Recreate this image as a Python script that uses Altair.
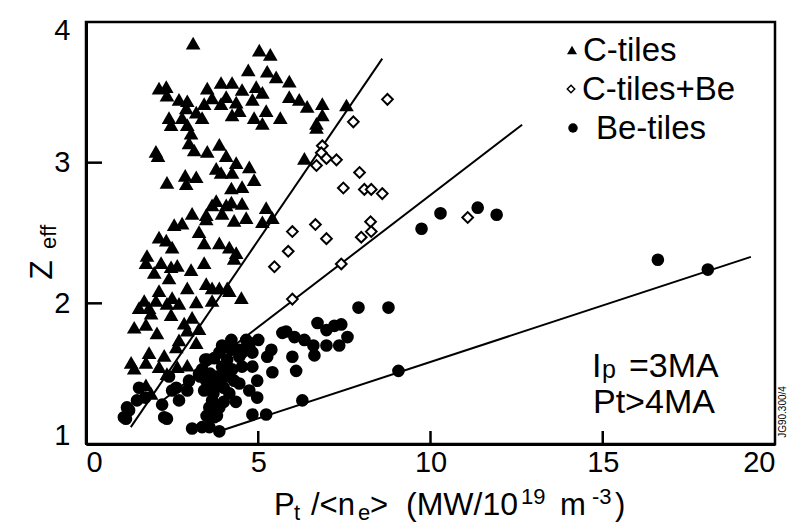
import altair as alt
import pandas as pd

# ---------------- data ----------------
c_tiles_x = [3.11, 5.03, 5.35, 4.71, 5.26, 5.52, 5.90, 2.12, 2.33, 2.35, 3.92, 4.24, 3.52, 4.53, 4.94,
             5.12, 4.07, 3.66, 2.70, 2.94, 4.83, 5.90, 6.19, 6.42, 6.86, 3.92, 4.36, 3.43, 2.91, 3.20,
             4.45, 4.24, 5.23, 6.86, 2.41, 2.79, 3.37, 4.88, 5.12, 5.64, 6.69, 6.69, 2.47, 2.94, 3.05,
             2.99, 3.14, 2.03, 2.09, 3.52, 3.87, 4.07, 3.78, 4.36, 4.74, 4.24, 3.92, 6.34, 2.35, 2.88,
             3.20, 2.91, 4.88, 4.22, 4.53, 3.78, 4.22, 4.53, 5.23, 3.08, 3.49, 3.95, 3.66, 4.07, 4.30,
             4.65, 5.41, 5.12, 3.49, 2.79, 2.56, 2.12, 2.33, 2.50, 3.28, 3.43, 3.87, 4.16, 4.36, 4.30,
             1.77, 2.18, 1.74, 1.98, 2.47, 2.65, 3.05, 3.43, 2.41, 2.94, 3.49, 3.66, 3.87, 4.10, 4.51,
             2.12, 1.69, 2.03, 2.35, 2.50, 2.70, 3.20, 3.66, 1.54, 1.83, 1.89, 2.47, 1.40, 1.74, 2.06,
             2.85, 3.08, 3.28, 3.20, 2.94, 2.70, 2.62, 2.27, 1.83, 1.31, 1.74, 1.40, 2.12, 2.65, 2.94,
             2.35, 1.74, 1.89, 7.56, 4.16]
c_tiles_y = [3.85, 3.80, 3.77, 3.66, 3.65, 3.61, 3.58, 3.53, 3.54, 3.48, 3.57, 3.57, 3.53, 3.52, 3.54,
             3.50, 3.47, 3.46, 3.45, 3.44, 3.45, 3.47, 3.45, 3.40, 3.42, 3.42, 3.43, 3.42, 3.39, 3.36,
             3.37, 3.34, 3.37, 3.34, 3.32, 3.32, 3.32, 3.32, 3.28, 3.32, 3.28, 3.25, 3.27, 3.27, 3.21,
             3.14, 3.09, 3.08, 3.05, 3.08, 3.13, 3.05, 2.96, 3.00, 2.97, 2.93, 2.93, 3.03, 2.86, 2.91,
             2.90, 2.85, 2.88, 2.82, 2.83, 2.73, 2.72, 2.71, 2.68, 2.64, 2.63, 2.64, 2.70, 2.70, 2.59,
             2.61, 2.61, 2.58, 2.60, 2.57, 2.56, 2.47, 2.45, 2.40, 2.51, 2.43, 2.43, 2.40, 2.36, 2.32,
             2.34, 2.29, 2.29, 2.22, 2.26, 2.27, 2.24, 2.29, 2.18, 2.11, 2.14, 2.11, 2.11, 2.11, 2.04,
             2.09, 2.02, 2.02, 2.00, 2.04, 2.00, 2.01, 2.02, 1.97, 1.97, 1.93, 1.92, 1.83, 1.85, 1.79,
             1.86, 1.90, 1.82, 1.72, 1.81, 1.74, 1.69, 1.63, 1.65, 1.58, 1.58, 1.54, 1.55, 1.55, 1.56,
             1.50, 1.42, 1.36, 3.41, 2.09]

c_be_x = [8.75, 7.76, 6.86, 6.83, 6.69, 6.98, 7.27, 7.94, 7.47, 8.08, 8.28, 8.60, 8.26, 8.28, 5.99,
          6.66, 6.98, 5.87, 7.99, 7.41, 5.99, 11.08, 5.47]
c_be_y = [3.45, 3.29, 3.12, 3.07, 2.98, 3.03, 3.02, 2.93, 2.82, 2.81, 2.81, 2.78, 2.58, 2.51, 2.51,
          2.56, 2.46, 2.37, 2.47, 2.28, 2.03, 2.61, 2.26]

be_x = [9.74, 10.29, 11.37, 11.92, 7.91, 8.78, 6.72, 6.98, 7.21, 7.41, 5.81, 6.05, 6.34, 6.60, 6.98,
        7.35, 7.59, 6.63, 5.99, 6.10, 9.07, 6.28, 16.60, 18.05, 5.38, 5.26, 5.41, 5.00, 4.74, 4.45,
        4.22, 4.83, 5.23, 3.87, 3.58, 3.72, 3.52, 3.72, 3.95, 4.10, 4.24, 4.53, 4.83, 4.97, 4.97,
        4.74, 4.45, 3.87, 3.58, 3.66, 3.87, 3.58, 4.16, 4.53, 4.83, 4.74, 4.45, 3.37, 3.49, 3.43,
        3.78, 1.16, 1.25, 1.54, 1.48, 2.35, 2.21, 2.70, 2.62, 2.41, 3.08, 3.63, 2.99, 3.28, 3.87,
        4.65, 5.70, 4.22, 4.07, 1.19, 1.10, 2.27, 1.72, 2.50, 2.94, 3.37, 3.46, 3.31, 3.70, 4.00,
        4.30, 3.95, 4.10, 3.60, 4.35, 3.80, 4.00, 3.50]
be_y = [2.53, 2.64, 2.68, 2.63, 1.97, 1.97, 1.86, 1.81, 1.84, 1.85, 1.80, 1.76, 1.74, 1.70, 1.70,
        1.70, 1.76, 1.63, 1.62, 1.52, 1.52, 1.31, 2.31, 2.24, 1.67, 1.62, 1.51, 1.74, 1.69, 1.67,
        1.67, 1.21, 1.21, 1.09, 1.12, 1.19, 1.60, 1.61, 1.55, 1.48, 1.53, 1.55, 1.55, 1.45, 1.33,
        1.38, 1.43, 1.43, 1.41, 1.31, 1.26, 1.26, 1.36, 1.65, 1.65, 1.72, 1.62, 1.53, 1.45, 1.38,
        1.48, 1.18, 1.24, 1.40, 1.31, 1.18, 1.28, 1.31, 1.40, 1.48, 1.11, 1.22, 1.45, 1.50, 1.65,
        1.74, 1.79, 1.74, 1.50, 1.26, 1.19, 1.19, 1.33, 1.38, 1.38, 1.12, 1.60, 1.48, 1.36, 1.40,
        1.45, 1.70, 1.60, 1.50, 1.30, 1.20, 1.30, 1.20]

# fitted lines (end points)
fit_group = ["C-tiles", "C-tiles", "C-tiles+Be", "C-tiles+Be", "Be-tiles", "Be-tiles"]
fit_x = [1.30, 8.60, 2.12, 12.66, 3.98, 19.30]
fit_y = [1.12, 3.74, 1.29, 3.27, 1.10, 2.33]

x_ticks = [0, 5, 10, 15, 20]
y_ticks = [1, 2, 3, 4]
inner_x_ticks = [5, 10, 15]
inner_y_ticks = [2, 3]

# plot frame corners (closed path around the axis domains)
frame_x = [0, 20, 20, 0, 0]
frame_y = [1, 1, 4, 4, 1]
frame_order = [0, 1, 2, 3, 4]

# ---------------- layout ----------------
W, H = 689, 422
LEFT, TOP = 86, 22
FONT = "Liberation Sans"

xs = alt.Scale(domain=[0, 20], nice=False, zero=False)
ys = alt.Scale(domain=[1, 4], nice=False, zero=False)

x_axis = alt.Axis(values=x_ticks, title=None, grid=False, ticks=False, domain=True,
                  domainColor="black", domainWidth=3,
                  labelFlush=True, labelFontSize=29, labelFont=FONT, labelColor="black",
                  labelPadding=4, format="d")
y_axis = alt.Axis(values=y_ticks, title=None, grid=False, ticks=False, domain=True,
                  domainColor="black", domainWidth=3,
                  labelFlush=True, labelFlushOffset=6, labelFontSize=29, labelFont=FONT,
                  labelColor="black", labelPadding=16, format="d")

tri = pd.DataFrame({"x": c_tiles_x, "y": c_tiles_y})
dia = pd.DataFrame({"x": c_be_x, "y": c_be_y})
cir = pd.DataFrame({"x": be_x, "y": be_y})
fits = pd.DataFrame({"g": fit_group, "x": fit_x, "y": fit_y})
frm = pd.DataFrame({"x": frame_x, "y": frame_y, "o": frame_order})

X = alt.X("x:Q", scale=xs, axis=x_axis)
Y = alt.Y("y:Q", scale=ys, axis=y_axis)

frame = alt.Chart(frm).mark_line(color="#000000", strokeWidth=2.5, clip=False).encode(
    x=X, y=Y, order="o:Q")

lines = alt.Chart(fits).mark_line(color="black", strokeWidth=2).encode(x=X, y=Y, detail="g:N")

triangles = alt.Chart(tri).mark_point(shape="triangle-up", filled=True, color="black",
                                      size=215, opacity=1, strokeWidth=0).encode(x=X, y=Y)

diamonds = alt.Chart(dia).mark_point(shape="diamond", filled=True, fill="white", stroke="black",
                                     strokeWidth=2, size=115, opacity=1).encode(x=X, y=Y)

circles = alt.Chart(cir).mark_circle(color="black", size=160, opacity=1).encode(x=X, y=Y)

xt = alt.Chart(pd.DataFrame({"v": inner_x_ticks})).mark_rule(color="black", strokeWidth=2.5).encode(
    x=alt.X("v:Q", scale=xs, axis=x_axis), y=alt.value(H), y2=alt.value(H - 13))
yt = alt.Chart(pd.DataFrame({"v": inner_y_ticks})).mark_rule(color="black", strokeWidth=2.5).encode(
    y=alt.Y("v:Q", scale=ys, axis=y_axis), x=alt.value(0), x2=alt.value(16))


def txt(s, px, py, size, angle=0, align="left", baseline="alphabetic"):
    return alt.Chart(pd.DataFrame({"t": [s]})).mark_text(
        font=FONT, fontSize=size, color="black", angle=angle, align=align, baseline=baseline
    ).encode(x=alt.value(px - LEFT), y=alt.value(py - TOP), text="t:N")


def sym(shape, px, py, size, filled=True):
    if filled:
        m = alt.Chart(pd.DataFrame({"a": [0]})).mark_point(shape=shape, filled=True, color="black",
                                                          size=size, opacity=1, strokeWidth=0)
    else:
        m = alt.Chart(pd.DataFrame({"a": [0]})).mark_point(shape=shape, filled=True, fill="white",
                                                          stroke="black", strokeWidth=1.5,
                                                          size=size, opacity=1)
    return m.encode(x=alt.value(px - LEFT), y=alt.value(py - TOP))


texts = [
    # legend
    sym("triangle-up", 572, 50, 100), txt("C-tiles", 583, 61, 33),
    sym("diamond", 571, 89, 55, filled=False), txt("C-tiles+Be", 582, 100, 33),
    sym("circle", 573, 128, 90), txt("Be-tiles", 596, 139, 33),
    # annotation
    txt("I", 592, 377, 34), txt("p", 602, 378, 25), txt("=3MA", 629, 377, 34),
    txt("Pt>4MA", 593, 413, 34),
    txt("JG90.300/4", 786, 412, 10, angle=270, align="center"),
    # y title
    txt("Z", 52, 270, 32, angle=270, align="center"),
    txt("eff", 56, 237, 22, angle=270, align="center"),
    # x title
    txt("P", 274, 515, 31), txt("t", 294, 520, 22),
    txt("/<n", 311, 515, 31), txt("e", 358, 520, 22),
    txt(">", 370, 515, 31), txt("(MW/10", 406, 515, 32),
    txt("19", 521, 504, 22), txt("m", 560, 515, 31),
    txt("-3", 592, 504, 22), txt(")", 615, 515, 31),
]

chart = alt.layer(frame, lines, triangles, diamonds, circles, xt, yt, *texts).properties(
    width=W, height=H,
    background="white",
    padding={"left": LEFT, "top": TOP, "right": 789 - LEFT - W, "bottom": 525 - TOP - H},
    autosize=alt.AutoSizeParams(type="none"),
).configure_view(stroke="black", strokeWidth=2)

chart.save("out.html", embed_options={"renderer": "svg", "actions": False})
